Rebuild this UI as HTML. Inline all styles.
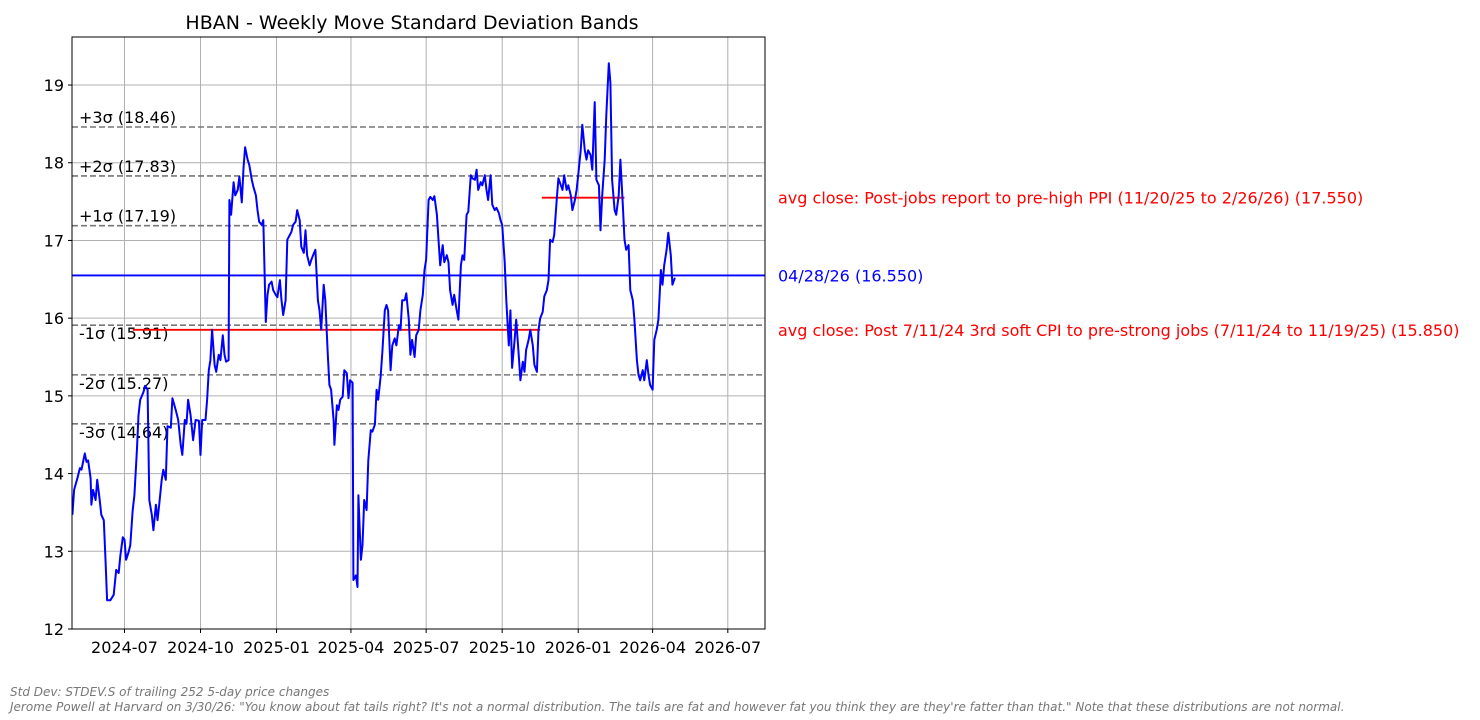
<!DOCTYPE html>
<html><head><meta charset="utf-8"><style>
body{margin:0;background:#fff;width:1480px;height:715px;overflow:hidden;font-family:"Liberation Sans","DejaVu Sans",sans-serif}
svg text{font-family:"DejaVu Sans","Liberation Sans",sans-serif}
</style></head><body>
<svg id="chart" width="1480" height="715" xmlns="http://www.w3.org/2000/svg">
<text x="412" y="29" font-size="19" text-anchor="middle" fill="#000">HBAN - Weekly Move Standard Deviation Bands</text>
<g id="grid"></g>
<g id="bands"></g>
<g id="series"></g>
<rect x="72" y="37" width="693" height="592" fill="none" stroke="#000" stroke-width="1"/>
<g id="ticks"></g>
<text x="10" y="696" font-size="12" font-style="italic" fill="#777">Std Dev: STDEV.S of trailing 252 5-day price changes</text>
<text x="10" y="711" font-size="12" font-style="italic" fill="#777">Jerome Powell at Harvard on 3/30/26: "You know about fat tails right? It's not a normal distribution. The tails are fat and however fat you think they are they're fatter than that." Note that these distributions are not normal.</text>
</svg>
<script>
const yTicks=[12,13,14,15,16,17,18,19];
const xTickLabels=["2024-07","2024-10","2025-01","2025-04","2025-07","2025-10","2026-01","2026-04","2026-07"];
const xTickDays=[0,92,184,274,365,457,549,639,730];
const sigmaLabels=["+3σ","+2σ","+1σ","-1σ","-2σ","-3σ"];
const sigmaValues=[18.46,17.83,17.19,15.91,15.27,14.64];
const currentClose=16.55;
const currentLabel="04/28/26 (16.550)";
const avgLabels=["avg close: Post-jobs report to pre-high PPI (11/20/25 to 2/26/26) (17.550)","avg close: Post 7/11/24 3rd soft CPI to pre-strong jobs (7/11/24 to 11/19/25) (15.850)"];
const avgValues=[17.55,15.85];
const avgStartDays=[505,10];
const avgEndDays=[605,503];
const dayOffsets=[-63,-61,-57,-54,-52,-48,-46,-44,-41,-40,-38,-35,-33,-30,-28,-25,-23,-21,-17,-13,-10,-7,-5,-2,0,2,5,7,10,12,15,17,19,23,25,28,30,33,35,38,40,42,45,47,50,52,56,58,62,65,68,70,73,75,77,80,83,86,90,92,94,98,100,102,104,106,109,111,114,116,119,121,123,126,127,129,132,134,137,139,142,144,146,149,151,154,156,159,161,163,166,168,171,173,175,178,180,183,185,188,190,192,195,197,200,202,204,207,209,212,214,217,219,221,224,226,229,231,234,236,238,241,243,246,248,250,253,254,257,259,261,264,266,269,271,273,276,277,280,282,283,286,288,290,293,295,298,300,303,305,307,310,312,315,317,319,322,324,327,329,332,334,336,339,341,344,346,348,351,353,356,358,361,363,365,368,370,373,375,378,380,382,385,387,390,392,394,397,399,402,404,407,409,411,414,416,419,421,424,426,428,431,433,436,438,440,443,445,448,450,453,455,457,460,462,465,467,469,472,474,477,479,482,484,486,489,491,494,496,499,501,503,506,508,511,513,515,518,520,523,525,528,530,532,535,537,540,542,545,547,549,552,554,557,559,561,564,566,569,571,574,576,578,581,583,586,588,590,593,595,598,600,603,605,607,610,612,615,617,620,622,624,627,629,632,634,636,639,641,644,646,649,651,653,656,658,661,663,666];
const closes=[13.47,13.79,13.94,14.07,14.05,14.26,14.15,14.17,13.94,13.60,13.79,13.66,13.92,13.66,13.47,13.40,12.89,12.37,12.37,12.44,12.76,12.72,12.94,13.18,13.15,12.89,12.99,13.08,13.53,13.72,14.30,14.75,14.95,15.05,15.13,15.08,13.66,13.47,13.27,13.60,13.40,13.60,13.92,14.05,13.92,14.61,14.59,14.97,14.82,14.69,14.37,14.24,14.69,14.64,14.95,14.75,14.43,14.69,14.68,14.24,14.69,14.69,14.95,15.33,15.46,15.85,15.40,15.31,15.53,15.46,15.78,15.53,15.44,15.46,17.52,17.33,17.75,17.58,17.65,17.82,17.49,17.93,18.20,18.04,17.97,17.78,17.69,17.58,17.39,17.24,17.20,17.26,15.95,16.30,16.43,16.47,16.36,16.30,16.27,16.49,16.23,16.04,16.23,17.01,17.07,17.11,17.20,17.24,17.39,17.26,16.92,16.84,17.13,16.81,16.68,16.75,16.83,16.88,16.23,16.10,15.85,16.43,16.23,15.53,15.14,15.08,14.69,14.37,14.88,14.82,14.95,14.99,15.33,15.29,14.97,15.20,15.17,12.63,12.69,12.54,13.72,12.89,13.08,13.66,13.53,14.17,14.56,14.54,14.63,15.08,14.95,15.26,15.55,16.10,16.17,16.10,15.33,15.65,15.74,15.65,15.91,15.85,16.23,16.23,16.32,15.98,15.53,15.72,15.50,15.78,15.85,16.10,16.30,16.62,16.75,17.52,17.56,17.52,17.57,17.33,17.01,16.68,16.94,16.72,16.81,16.72,16.36,16.17,16.30,16.10,15.98,16.68,16.81,16.75,17.33,17.37,17.84,17.80,17.78,17.91,17.65,17.75,17.71,17.84,17.65,17.52,17.84,17.46,17.39,17.42,17.35,17.26,17.20,16.72,16.23,15.65,16.10,15.36,15.72,15.98,15.53,15.20,15.44,15.31,15.59,15.72,15.85,15.65,15.40,15.31,15.85,16.00,16.08,16.28,16.36,16.49,17.01,16.98,17.07,17.52,17.80,17.71,17.65,17.84,17.65,17.71,17.58,17.39,17.52,17.65,17.84,18.16,18.49,18.16,18.04,18.16,18.10,17.91,18.78,17.78,17.71,17.13,17.58,18.04,18.61,19.28,19.03,17.78,17.39,17.33,17.58,18.04,17.46,17.01,16.88,16.94,16.36,16.23,15.98,15.46,15.27,15.20,15.33,15.20,15.46,15.27,15.14,15.08,15.72,15.85,15.98,16.62,16.43,16.68,16.88,17.10,16.81,16.43,16.52];

const NS="http://www.w3.org/2000/svg";
const L=72,R=765,T=37,B=629;
const xMin=-63.5,xMax=775;
const yMin=12,yMax=19.618;
const X=d=>L+(d-xMin)/(xMax-xMin)*(R-L);
const Y=v=>B-(v-yMin)/(yMax-yMin)*(B-T);
function mk(tag,attrs,parent,txt){const e=document.createElementNS(NS,tag);for(const k in attrs)e.setAttribute(k,attrs[k]);if(txt!==undefined)e.textContent=txt;parent.appendChild(e);return e;}
const grid=document.getElementById('grid'),ticks=document.getElementById('ticks'),bands=document.getElementById('bands'),series=document.getElementById('series'),svg=document.getElementById('chart');
yTicks.forEach(v=>{
  const g=mk('line',{x1:L,x2:R,y1:Y(v),y2:Y(v),stroke:'#b0b0b0','stroke-width':1},grid);
  
  
  const t=mk('line',{x1:L-4,x2:L,y1:Y(v),y2:Y(v),stroke:'#000'},ticks);
  
  
  const lb=mk('text',{x:L-8,y:Y(v)+6,'font-size':16,'text-anchor':'end'},ticks,String(v));
  
  
});
xTickDays.forEach((d,i)=>{
  const g=mk('line',{x1:X(d),x2:X(d),y1:T,y2:B,stroke:'#b0b0b0','stroke-width':1},grid);
  
  
  const t=mk('line',{x1:X(d),x2:X(d),y1:B,y2:B+4,stroke:'#000'},ticks);
  
  
  const lb=mk('text',{x:X(d),y:B+24,'font-size':16,'text-anchor':'middle'},ticks,xTickLabels[i]);
  
  
});
sigmaValues.forEach((v,i)=>{
  const l=mk('line',{x1:L,x2:R,y1:Y(v),y2:Y(v),stroke:'#777','stroke-width':1.6,'stroke-dasharray':'6,3'},bands);
  
  
  const below=sigmaLabels[i].startsWith('-');
  const t=mk('text',{x:79,y:below?Y(v)+14:Y(v)-4,'font-size':16},bands,sigmaLabels[i]+' ('+v.toFixed(2)+')');
  
  
});
avgValues.forEach((v,i)=>{
  const l=mk('line',{x1:X(avgStartDays[i]),x2:X(avgEndDays[i]),y1:Y(v),y2:Y(v),stroke:'#ff0000','stroke-width':1.8},series);
  
  
  const t=mk('text',{x:778,y:Y(v)+6,'font-size':16,fill:'#ff0000'},svg,avgLabels[i]);
  
  
});
const cl=mk('line',{x1:L,x2:R,y1:Y(currentClose),y2:Y(currentClose),stroke:'#0000ff','stroke-width':1.8},series);


const ct=mk('text',{x:778,y:Y(currentClose)+6,'font-size':16,fill:'#0000ff'},svg,currentLabel);


const pts=dayOffsets.map((d,i)=>X(d).toFixed(1)+','+Y(closes[i]).toFixed(1)).join(' ');
const pl=mk('polyline',{points:pts,fill:'none',stroke:'#0000ff','stroke-width':2,'stroke-linejoin':'round'},series);


</script>
</body></html>
